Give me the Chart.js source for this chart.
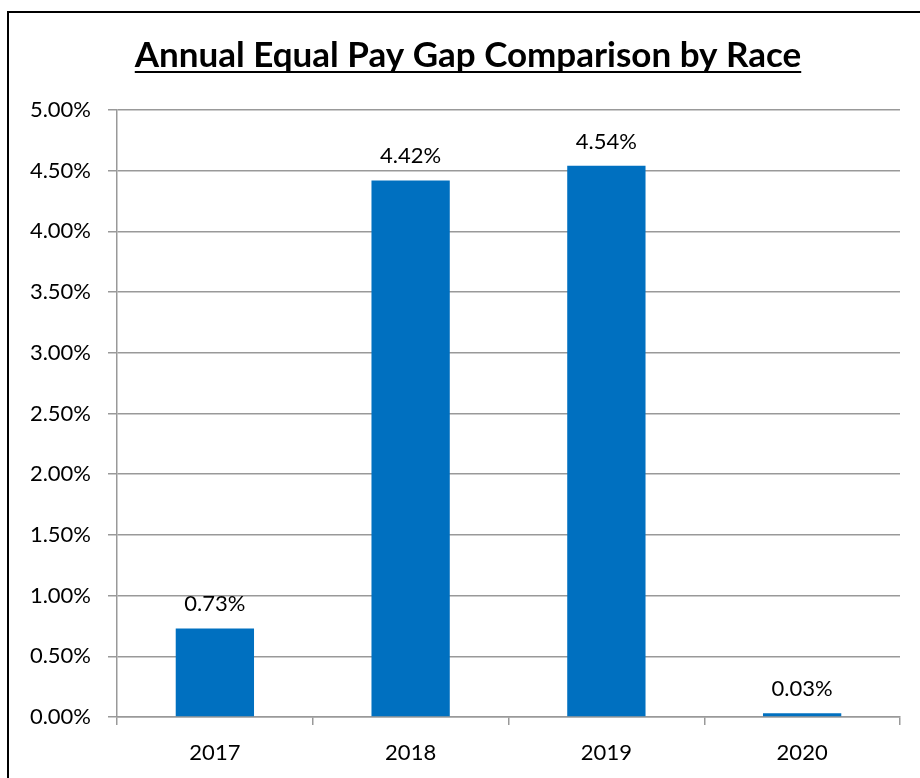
<!DOCTYPE html>
<html>
<head>
<meta charset="utf-8">
<script src="https://cdn.jsdelivr.net/npm/chart.js@4"></script>
<style>
  html, body { margin: 0; padding: 0; background: #fff; }
  #wrap { width: 920px; height: 778px; }
</style>
</head>
<body>
<div id="wrap"><canvas id="gapChart" width="920" height="778"></canvas></div>
<script>
// Données
const years = ["2017", "2018", "2019", "2020"];
const payGap = [0.73, 4.42, 4.54, 0.03];
const yTicks = [0, 0.5, 1, 1.5, 2, 2.5, 3, 3.5, 4, 4.5, 5];
const chartTitle = "Annual Equal Pay Gap Comparison by Race";

const gridGray = "#999999";
const fontName = "Lato, 'Open Sans', sans-serif";

// Cadre, titre souligné et étiquettes au-dessus des barres
const decorPlugin = {
    id: "decor",
    beforeDraw(chart) {
        const ctx = chart.ctx;
        ctx.save();
        ctx.fillStyle = "#fff";
        ctx.fillRect(0, 0, chart.width, chart.height);
        ctx.strokeStyle = "#000";
        ctx.lineWidth = 2;
        ctx.strokeRect(8, 12, 960, 820);
        ctx.restore();
    },
    afterDraw(chart) {
        const ctx = chart.ctx;
        ctx.save();
        // titre
        ctx.font = "bold 35px " + fontName;
        ctx.fillStyle = "#000";
        ctx.textAlign = "center";
        ctx.textBaseline = "alphabetic";
        const cx = 468;
        ctx.fillText(chartTitle, cx, 67);
        const w = ctx.measureText(chartTitle).width;
        ctx.fillRect(cx - w / 2, 71, w, 2);

        // étiquettes de valeur
        ctx.font = "22px " + fontName;
        const meta = chart.getDatasetMeta(0);
        meta.data.forEach((bar, i) => {
            ctx.fillText(payGap[i].toFixed(2) + "%", bar.x, bar.y - 17);
        });
        ctx.restore();
    }
};

new Chart(document.getElementById("gapChart"), {
    type: "bar",
    data: {
        labels: years,
        datasets: [{
            data: payGap,
            backgroundColor: "#0070C0",
            borderWidth: 0,
            categoryPercentage: 1,
            barPercentage: 0.4
        }]
    },
    options: {
        responsive: false,
        animation: false,
        layout: { padding: { top: 110, right: 20, left: 0, bottom: 0 } },
        plugins: {
            legend: { display: false },
            tooltip: { enabled: false },
            title: { display: false }
        },
        scales: {
            x: {
                grid: {
                    offset: true,
                    drawOnChartArea: false,
                    drawTicks: true,
                    tickLength: 8,
                    color: gridGray,
                    lineWidth: 1.5
                },
                border: { color: gridGray, width: 1.5 },
                ticks: {
                    color: "#000",
                    font: { family: fontName, size: 22 },
                    padding: 15
                },
                afterFit(scale) { scale.height = 61; }
            },
            y: {
                min: 0,
                max: 5,
                afterBuildTicks(scale) {
                    scale.ticks = yTicks.map(v => ({ value: v }));
                },
                grid: {
                    color: gridGray,
                    lineWidth: 1.5,
                    tickLength: 9
                },
                border: { color: gridGray, width: 1.5 },
                ticks: {
                    color: "#000",
                    font: { family: fontName, size: 22 },
                    padding: 17,
                    callback: v => v.toFixed(2) + "%"
                },
                afterFit(scale) { scale.width = 117; }
            }
        }
    },
    plugins: [decorPlugin]
});
</script>
</body>
</html>
